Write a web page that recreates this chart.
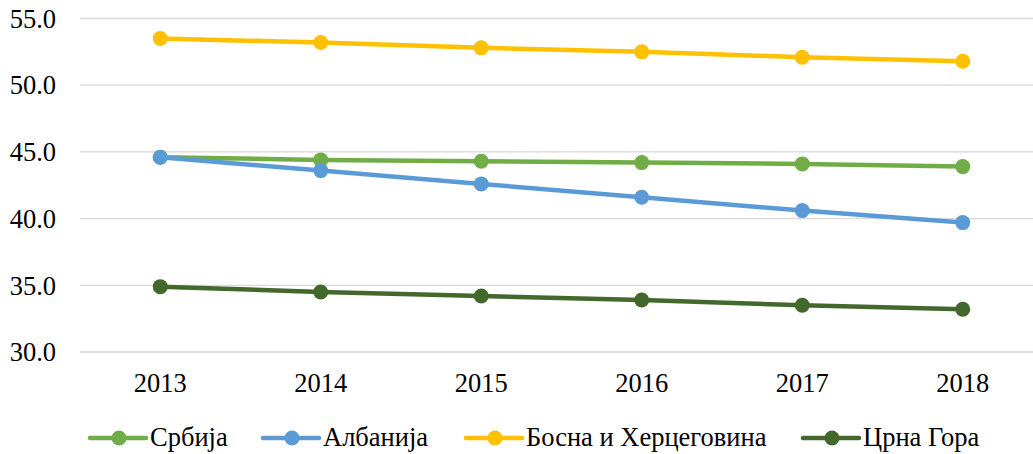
<!DOCTYPE html>
<html>
<head>
<meta charset="utf-8">
<script src="https://cdn.jsdelivr.net/npm/d3@7"></script>
<style>
  body { margin: 0; background: #fff; }
</style>
</head>
<body>
<div id="chart"></div>
<script>
// data
const years = ['2013', '2014', '2015', '2016', '2017', '2018'];
const serbia = [44.6, 44.4, 44.3, 44.2, 44.1, 43.9];
const albania = [44.6, 43.6, 42.6, 41.6, 40.6, 39.7];
const bosnia = [53.5, 53.2, 52.8, 52.5, 52.1, 51.8];
const montenegro = [34.9, 34.5, 34.2, 33.9, 33.5, 33.2];
const seriesNames = ['Србија', 'Албанија', 'Босна и Херцеговина', 'Црна Гора'];
const yTicks = [30, 35, 40, 45, 50, 55];

const colors = ['#70ad47', '#5b9bd5', '#ffc000', '#43682b'];
const series = [serbia, albania, bosnia, montenegro].map((values, i) => ({
  name: seriesNames[i],
  color: colors[i],
  values,
}));

const width = 1033;
const height = 454;
const margin = { t: 18.5, r: -10, b: 102, l: 80 };
const fontSize = '26.5px';
const font = "'Liberation Serif', serif";

const svg = d3
  .select('#chart')
  .append('svg')
  .attr('width', width)
  .attr('height', height);

const x = d3
  .scalePoint()
  .domain(years)
  .range([margin.l, width - margin.r])
  .padding(0.5);

const y = d3
  .scaleLinear()
  .domain([30, 55])
  .range([height - margin.b, margin.t]);

// gridlines
svg
  .append('g')
  .selectAll('line')
  .data(yTicks)
  .join('line')
  .attr('x1', margin.l)
  .attr('x2', width)
  .attr('y1', (d) => y(d))
  .attr('y2', (d) => y(d))
  .attr('stroke', '#d9d9d9')
  .attr('stroke-width', 1.3);

// y labels
svg
  .append('g')
  .selectAll('text')
  .data(yTicks)
  .join('text')
  .attr('x', 56)
  .attr('y', (d) => y(d))
  .attr('dy', '0.35em')
  .attr('text-anchor', 'end')
  .attr('font-family', font)
  .attr('font-size', fontSize)
  .text((d) => d.toFixed(1));

// x labels
svg
  .append('g')
  .selectAll('text')
  .data(years)
  .join('text')
  .attr('x', (d) => x(d))
  .attr('y', 392)
  .attr('text-anchor', 'middle')
  .attr('font-family', font)
  .attr('font-size', fontSize)
  .text((d) => d);

const line = d3
  .line()
  .x((d, i) => x(years[i]))
  .y((d) => y(d));

// lines + markers
const g = svg.append('g').selectAll('g').data(series).join('g');
g.append('path')
  .attr('d', (d) => line(d.values))
  .attr('fill', 'none')
  .attr('stroke', (d) => d.color)
  .attr('stroke-width', 4.5)
  .attr('stroke-linejoin', 'round');
g.selectAll('circle')
  .data((d) => d.values.map((v, i) => ({ v, i, color: d.color })))
  .join('circle')
  .attr('cx', (d) => x(years[d.i]))
  .attr('cy', (d) => y(d.v))
  .attr('r', 7.5)
  .attr('fill', (d) => d.color);

// legend
const legendTextX = [150, 323, 526, 863];
const leg = svg
  .append('g')
  .selectAll('g')
  .data(series)
  .join('g')
  .attr('transform', (d, i) => `translate(${legendTextX[i] - 60}, 438)`);
leg
  .append('line')
  .attr('x1', 0)
  .attr('x2', 56)
  .attr('stroke', (d) => d.color)
  .attr('stroke-width', 4.5)
  .attr('stroke-linecap', 'round');
leg
  .append('circle')
  .attr('cx', 29)
  .attr('r', 7.5)
  .attr('fill', (d) => d.color);
leg
  .append('text')
  .attr('x', 60)
  .attr('y', 7.5)
  .attr('font-family', font)
  .attr('font-size', fontSize)
  .text((d) => d.name);
</script>
</body>
</html>
